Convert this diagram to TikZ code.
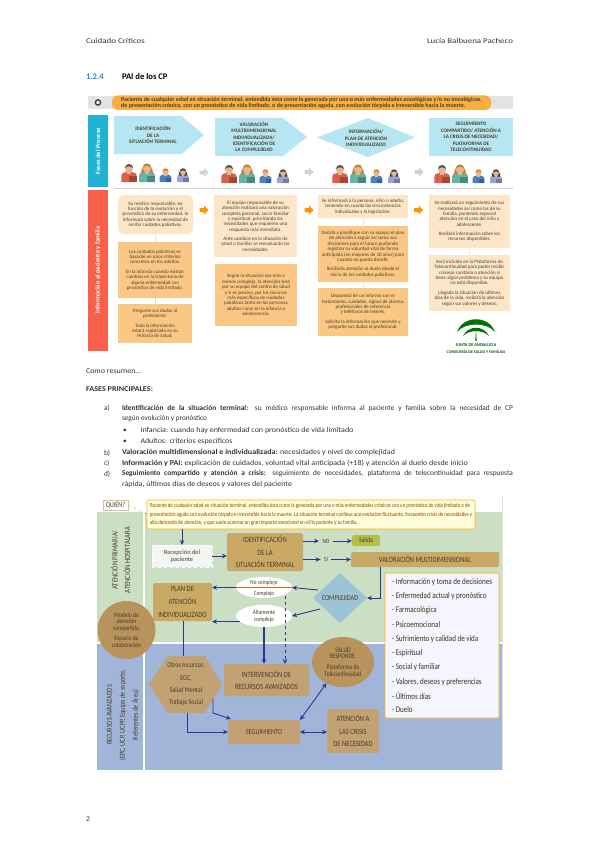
\documentclass[tikz,border=0pt]{standalone}
\usepackage{fontspec}
\setmainfont{Carlito}
\newfontfamily\cond[FakeStretch=0.82]{Carlito}
\usetikzlibrary{arrows.meta,shapes.geometric}
\definecolor{navy}{HTML}{33338F}
\definecolor{tan}{HTML}{C9A963}
\definecolor{tanb}{HTML}{C2A173}
\definecolor{brownc}{HTML}{B8935C}
\definecolor{greenbg}{HTML}{CBDFC4}
\definecolor{bluebg}{HTML}{A0B5D8}
\definecolor{cya}{HTML}{B5E6F1}
\definecolor{barcy}{HTML}{1FB3D1}
\definecolor{barred}{HTML}{F9604A}
\definecolor{orbar}{HTML}{F8AE42}
\definecolor{pl}{HTML}{FDE5C8}
\definecolor{pd}{HTML}{FBC784}
\definecolor{dk}{HTML}{4A3E2A}
\definecolor{body}{HTML}{333333}
\definecolor{dia}{HTML}{9DC4D6}
\definecolor{shA}{HTML}{D9604C}
\definecolor{shB}{HTML}{62B5A8}
\definecolor{shC}{HTML}{4A80C4}
\definecolor{shD}{HTML}{9AA3D2}
\definecolor{skin}{HTML}{E3B78F}
\tikzset{
 x=1pt,y=-1pt,
 tx/.style={inner sep=0,outer sep=0,text=body,font=\fontsize{7.4}{9}\selectfont,anchor=west},
 bxs/.style={inner sep=0,outer sep=0,align=center},
 flat/.style={bxs,text=dk,font=\fontsize{5}{5.35}\selectfont},
 lt/.style={flat,fill=pl},
 dkb/.style={flat,fill=pd},
 head/.style={bxs,text=dk,font=\bfseries\fontsize{5.2}{6.4}\selectfont},
 tanbox/.style={bxs,fill=tan,rounded corners=1.5pt,text=dk,font=\cond\fontsize{8}{12.6}\selectfont},
 tbb/.style={bxs,fill=tanb,rounded corners=1.5pt,text=dk,font=\cond\fontsize{8}{12.6}\selectfont},
 arr/.style={draw=navy,line width=0.9pt,-{Stealth[length=5pt,width=4.5pt]}},
 lbl/.style={inner sep=3.5pt,outer sep=0,text=dk,font=\cond\fontsize{6.5}{7}\selectfont},
 lst/.style={inner sep=0,outer sep=0,anchor=west,text=dk!80!black,font=\cond\fontsize{8.6}{10}\selectfont},
 vt/.style={inner sep=0,outer sep=0,rotate=90,align=center,text=dk,font=\cond\fontsize{8}{12.6}\selectfont}
}
\newcommand\fitw[2]{\resizebox{#1pt}{\height}{#2}}
\newcommand\bx[7]{\node[#6,minimum width={(#4-#2)*1pt},minimum height={(#5-#3)*1pt}] (#1) at ({(#2+#4)/2},{(#3+#5)/2}) {#7};}
\newcommand\person[7]{% x, bottom y, scale, shirt, hair, skin, long hair?
 \begin{scope}[shift={(#1,#2)},scale=#3]
  \fill[#4] (-8,0) -- (-8,-7) .. controls (-8,-10) and (-4,-10.5) .. (0,-10.5) .. controls (4,-10.5) and (8,-10) .. (8,-7) -- (8,0) -- cycle;
  \fill[#4!75!black] (0,0) rectangle (8,-6);
  \ifnum#7=1 \fill[#5] (-6,-9) .. controls (-7,-19) and (7,-19) .. (6,-9) -- cycle;\fi
  \fill[#6] (0,-14) ellipse (4.1 and 4.6);
  \fill[#6] (-1.6,-11) rectangle (1.6,-8.5);
  \fill[#5] (-4.4,-14.5) .. controls (-4.4,-20.5) and (4.4,-20.5) .. (4.4,-14.5) .. controls (2,-17) and (-2,-17) .. (-4.4,-14.5) -- cycle;
 \end{scope}}
\newcommand\family[2]{%
 \person{#1}{#2}{0.95}{shA}{gray!70!black}{skin}{0}
 \person{#1+18}{#2}{0.98}{shB}{brown!85!orange}{skin}{1}
 \person{#1+36.5}{#2}{0.72}{shC}{orange!60!brown}{skin}{0}
 \person{#1+54}{#2}{0.72}{shD}{black!75}{skin}{1}}
\newcommand\blk[3]{\fill[#3] (#1-4.5,#2-2) -- (#1,#2-2) -- (#1,#2-4.5) -- (#1+4.5,#2) -- (#1,#2+4.5) -- (#1,#2+2) -- (#1-4.5,#2+2) -- cycle;}
\begin{document}
\begin{tikzpicture}
\useasboundingbox (0,0) rectangle (599,848);
\fill[white] (0,0) rectangle (599,848);
% page header
\node[tx] (hl) at (86,41) {\fitw{59}{Cuidado Críticos}};
\node[tx,anchor=east] (hr) at (513,41) {\fitw{86}{Lucía Balbuena Pacheco}};
\node[tx,text=blue!45!cyan!70!gray,font=\bfseries\fontsize{8.6}{10}\selectfont] (num) at (86,77) {1.2.4};
\node[tx,text=black,font=\bfseries\fontsize{8.6}{10}\selectfont] (tit) at (122,77) {PAI de los CP};
% top infographic
\fill[gray!22] (88,96) rectangle (513,109);
\draw[black!75,line width=1.4pt,fill=white] (98,102.5) circle (2.6);
\bx{obar}{112}{95.5}{491}{110}{bxs,align=left,fill=orbar,rounded corners=6pt,text=dk,font=\bfseries\fontsize{6}{6.5}\selectfont}{Paciente de cualquier edad en situación terminal, entendida ésta como la generada por una o más enfermedades oncológicas y/o no oncológicas,\\de presentación crónica, con un pronóstico de vida limitado, o de presentación aguda, con evolución tórpida e irreversible hacia la muerte.}
\bx{fases}{88}{115}{108}{187}{fill=barcy,inner sep=0}{}
\node[rotate=90,inner sep=0,text=white,font=\bfseries\fontsize{6.4}{7}\selectfont] (fast) at (fases) {Fases del Proceso};
\fill[cya] (114,116) -- (181.5,116) -- (204,135) -- (181.5,154) -- (114,154) -- cycle;
\fill[cya] (215,118) -- (283,118) -- (307,137) -- (283,156) -- (215,156) -- cycle;
\fill[cya] (317,137.5) -- (368,118) -- (415,137.5) -- (368,157) -- cycle;
\fill[cya] (429,118) rectangle (513,156);
\node[head] (f1) at (153,135) {IDENTIFICACIÓN\\DE LA\\SITUACIÓN TERMINAL};
\node[head] (f2) at (254,137) {VALORACIÓN\\MULTIDIMENSIONAL\\INDIVIDUALIZADA/\\IDENTIFICACIÓN DE\\LA COMPLEJIDAD};
\node[head] (f3) at (366,138) {INFORMACIÓN/\\PLAN DE ATENCIÓN\\INDIVIDUALIZADO};
\node[head] (f4) at (471,137) {SEGUIMIENTO\\COMPARTIDO/ ATENCIÓN A\\LA CRISIS DE NECESIDAD/\\PLATAFORMA DE\\TELECONTINUIDAD};
\family{129}{182}
\family{229}{183}
\family{340}{183}
\family{442}{183}
\blk{204}{172.5}{gray!35}
\blk{309}{172}{gray!35}
\blk{419}{172}{gray!35}
\draw[gray!35,line width=0.8pt] (114,188.5) -- (513,188.5);
\bx{rbar}{88}{190}{108}{351}{fill=barred,inner sep=0}{}
\node[rotate=90,inner sep=0,text=white,font=\bfseries\fontsize{6.4}{7}\selectfont] (rbt) at (98,270) {Información al paciente y familia};
% column boxes
\bx{a1}{118}{195}{193}{234}{lt,rounded corners=6pt}{Su médico responsable, en\\función de la evolución y el\\pronóstico de su enfermedad, le\\informará sobre la necesidad de\\recibir cuidados paliativos.}
\bx{a2}{118}{242}{192}{298}{dkb}{Los cuidados paliativos se\\basarán en unos criterios\\concretos en los adultos.\\[4pt]En la infancia cuando existan\\cambios en la trayectoria de\\alguna enfermedad con\\pronóstico de vida limitado.}
\bx{a3}{118}{304}{192}{343}{dkb}{Pregunte sus dudas al\\profesional.\\[4pt]Toda la información\\estará registrada en su\\Historia de Salud.}
\bx{b1}{214}{195}{297}{257}{lt}{El equipo responsable de su\\atención realizará una valoración\\completa personal, socio-familiar\\y espiritual, priorizando las\\necesidades que requieren una\\respuesta más inmediata.\\[4pt]Ante cambios en la situación de\\salud o familiar se reevaluarán las\\necesidades.}
\bx{b2}{215}{264}{297}{326}{dkb}{Según la situación sea más o\\menos compleja, la atención será\\por su equipo del centro de salud\\y si es preciso, por los recursos\\más específicos de cuidados\\paliativos tanto en las personas\\adultas como en la infancia o\\adolescencia.}
\bx{c1}{318}{195}{408}{218}{lt}{Se informará a la persona, niño o adulto,\\teniendo en cuenta las circunstancias\\individuales y la legislación.}
\bx{c2}{318}{226}{408}{282}{dkb}{Decida y planifique con su equipo el plan\\de atención a seguir así como sus\\decisiones para el futuro pudiendo\\registrar su voluntad vital de forma\\anticipada (en mayores de 18 años) para\\cuando no pueda decidir.\\[4pt]Recibirás atención al duelo desde el\\inicio de los cuidados paliativos.}
\bx{c3}{318}{288}{408}{336}{dkb}{Dispondrá de un informe con el\\tratamiento, cuidados, signos de alarma,\\profesionales de referencia\\y teléfonos de interés.\\[4pt]Solicite la información que necesite y\\pregunte sus dudas al profesional.}
\bx{d1}{429}{195}{510}{248}{lt}{Se realizará un seguimiento de sus\\necesidades así como las de su\\familia, poniendo especial\\atención en el caso del niño y\\adolescente.\\[4pt]Recibirá información sobre los\\recursos disponibles.}
\bx{d2}{429}{255}{510}{311}{lt}{Será incluido en la Plataforma de\\Telecontinuidad para poder recibir\\consejo sanitario o atención si\\tiene algún problema y su equipo\\no está disponible.\\[4pt]Llegada la situación de últimos\\días de la vida, recibirá la atención\\según sus valores y deseos.}
\draw[gray!30,line width=0.7pt] (a1) -- (a2);
\draw[gray!30,line width=0.7pt] (a2) -- (a3);
\draw[pl,line width=0.7pt] (b1) -- (b2);
\draw[pl,line width=0.7pt] (c1) -- (c2);
\draw[pl,line width=0.7pt] (c2) -- (c3);
\draw[pl,line width=0.7pt] (d1) -- (d2);
\blk{204}{210}{orange!85!yellow}
\blk{309}{210}{orange!85!yellow}
\blk{418.5}{210}{orange!85!yellow}
% logo
\fill[green!45!black] (457,332) .. controls (463,315) and (489,315) .. (495,332) .. controls (487,322) and (465,322) .. (457,332) -- cycle;
\fill[green!45!black] (463,336) .. controls (468,325) and (484,325) .. (489,336) .. controls (483,329.5) and (469,329.5) .. (463,336) -- cycle;
\fill[green!45!black] (475.3,341) -- (476,330) -- (476.7,341) -- cycle;
\node[inner sep=0,text=green!35!black,font=\bfseries\fontsize{4.4}{5}\selectfont] (lg1) at (476,345.5) {JUNTA DE ANDALUCIA};
\node[inner sep=0,text=green!35!black,font=\bfseries\fontsize{4.1}{5}\selectfont] (lg2) at (476,352) {CONSEJERÍA DE SALUD Y FAMILIAS};
% body text
\node[tx] (t0) at (86,371) {\fitw{55}{Como resumen…}};
\node[tx,font=\bfseries\fontsize{7.4}{9}\selectfont] (t1) at (86,389) {\fitw{67}{FASES PRINCIPALES:}};
\node[tx] (ta) at (104,408) {a)};
\node[tx] (tal) at (122,408) {\makebox[391pt][s]{\textbf{Identificación de la situación terminal:} su médico responsable informa al paciente y familia sobre la necesidad de CP}};
\node[tx] (tb2) at (122,419) {\fitw{85}{según evolución y pronóstico}};
\node[tx] (bu1) at (123,431) {•};
\node[tx] (bt1) at (140.5,431) {\fitw{213}{Infancia: cuando hay enfermedad con pronóstico de vida limitado}};
\node[tx] (bu2) at (123,441.5) {•};
\node[tx] (bt2) at (140.5,441.5) {\fitw{92}{Adultos: criterios específicos}};
\node[tx] (tb) at (104,453) {b)};
\node[tx] (tbl) at (122,453) {\fitw{273}{\textbf{Valoración multidimensional e individualizada:} necesidades y nivel de complejidad}};
\node[tx] (tc) at (104,463.5) {c)};
\node[tx] (tcl) at (122,463.5) {\fitw{346}{\textbf{Información y PAI:} explicación de cuidados, voluntad vital anticipada (+18) y atención al duelo desde inicio}};
\node[tx] (td) at (104,474) {d)};
\node[tx] (tdl) at (122,474) {\makebox[391pt][s]{\textbf{Seguimiento compartido y atención a crisis:} seguimiento de necesidades, plataforma de telecontinuidad para respuesta}};
\node[tx] (td2) at (122,484.5) {\fitw{170}{rápida, últimos días de deseos y valores del paciente}};
% lower diagram backgrounds
\fill[greenbg] (97,512) rectangle (502,642);
\fill[bluebg] (97,644) rectangle (502,770);
\draw[white,line width=1.2pt] (144,512) -- (144,642) (144,644) -- (144,770);
\fill[white] (97,498) rectangle (145,511);
\draw[gray!25] (502,497) -- (502,770);
\bx{quien}{103}{500}{128}{510}{bxs,fill=white,draw=tan!70,line width=0.4pt,text=dk,font=\cond\fontsize{7.5}{8}\selectfont}{QUIÉN?}
\bx{yel}{147}{500}{475}{529}{bxs,align=left,fill=yellow!14,draw=orange!60!yellow,line width=0.6pt,rounded corners=1.5pt,text=orange!55!black,font=\cond\fontsize{5.95}{8.4}\selectfont}{Paciente de cualquier edad en situación terminal, entendida ésta como la generada por una o más enfermedades crónicas con un pronóstico de vida limitado o de\\presentación aguda con evolución tórpida e irreversible hacia la muerte. La situación terminal conlleva una evolución fluctuante, frecuentes crisis de necesidades y\\alta demanda de atención, y que suele acarrear un gran impacto emocional en el/la paciente y su familia.}
\draw[tan,line width=0.4pt,dashed] (quien.east) -- (yel.west);
\node[vt] (vt1) at (120.5,560) {ATENCIÓN PRIMARIA/\\ATENCIÓN HOSPITALARA};
\node[vt,font=\cond\fontsize{7.6}{13}\selectfont] (vt2) at (123,715) {RECURSOS AVANZADOS\\(EPC, UCP, UCPP, Equipo de soporte,\\Referentes de Área)};
\bx{recep}{152}{545}{212}{567}{bxs,fill=green!6!gray!8,draw=white,dashed,line width=0.4pt,text=dk,font=\fontsize{6.4}{7}\selectfont}{Recepción del\\paciente}
\bx{ident}{227}{533}{303}{571}{tanbox}{IDENTIFICACIÓN\\DE LA\\SITUACIÓN TERMINAL}
\node[lbl] (no) at (326,541) {NO};
\node[lbl] (si) at (326,559.5) {SI};
\bx{sal}{352}{535}{380}{546}{bxs,fill=olive!35!green!35!yellow!70!gray,rounded corners=1.5pt,text=dk,font=\cond\fontsize{7}{8}\selectfont}{Salida}
\bx{val}{351}{552}{499}{567}{bxs,fill=tan,rounded corners=1.5pt,text=dk,font=\cond\fontsize{8}{9}\selectfont}{VALORACIÓN MULTIDIMENSIONAL}
\node[ellipse,fill=white,inner sep=0,outer sep=0,minimum width=56pt,minimum height=21pt] (e1) at (264,587.5) {};
\node[inner sep=0,text=dk,font=\cond\fontsize{6.4}{7}\selectfont] (e1a) at (264,582.5) {No complejo};
\node[inner sep=0,text=dk,font=\cond\fontsize{6.4}{7}\selectfont] (e1b) at (264,593.5) {Complejo};
\draw[orange!85!black,line width=0.9pt] (e1.west) -- (e1.east);
\node[ellipse,fill=white,inner sep=0,outer sep=0,minimum width=56pt,minimum height=22pt,align=center,text=dk,font=\cond\fontsize{6.4}{7.2}\selectfont] (e2) at (264,616) {Altamente\\complejo};
\bx{plan}{153}{583}{212}{621}{tanbox}{PLAN DE\\ATENCIÓN\\INDIVIDUALIZADO}
\node[diamond,fill=dia,inner sep=0,outer sep=0,minimum width=54pt,minimum height=50pt,text=dk,font=\cond\fontsize{7.6}{8}\selectfont] (cx) at (340,598) {COMPLEJIDAD};
\bx{list}{385}{573}{499}{718}{inner sep=0,fill=blue!4!white,draw=orange!60!yellow,line width=0.7pt,rounded corners=1pt}{}
\foreach \tt/\yy/\nn in {Información y toma de decisiones/582.5/a,Enfermedad actual y pronóstico/596.5/b,Farmacológica/610.5/c,Psicoemocional/625/d,Sufrimiento y calidad de vida/639/e,Espiritual/653/f,Social y familiar/667.5/g,{Valores, deseos y preferencias}/682/h,Últimos días/696/i,Duelo/710/j}{
 \node[lst] (li\nn) at (392,\yy) {- \tt};
}
\node[circle,fill=brownc,inner sep=0,outer sep=0,minimum size=58pt,align=center,text=dk,font=\cond\fontsize{6.8}{6.4}\selectfont] (mod) at (126.5,630) {Modelo de\\atención\\compartida.\\[4pt]Espacio de\\colaboración};
% hexagon
\fill[tanb] (149,684.5) -- (168,656) -- (205,656) -- (222,684.5) -- (205,713) -- (168,713) -- cycle;
\node[inner sep=0,align=center,text=dk,font=\cond\fontsize{7.4}{12.4}\selectfont] (hx) at (186,684.5) {Otros recursos:\\EGC,\\Salud Mental\\Trabajo Social};
\coordinate (hxt) at (183,656);
\coordinate (hxb) at (187,713);
\coordinate (hxr) at (213,699);
\bx{int}{224}{664}{309}{696}{tbb}{INTERVENCIÓN DE\\RECURSOS AVANZADOS}
\bx{seg}{228}{720}{300}{744}{tbb,font=\cond\fontsize{7.6}{9}\selectfont}{SEGUIMIENTO}
\node[ellipse,fill=brownc,inner sep=0,outer sep=0,minimum width=62pt,minimum height=50pt,align=center,text=dk,font=\cond\fontsize{7}{6.6}\selectfont] (sr) at (343,662) {SALUD\\RESPONDE.\\[4pt]Plataforma de\\Telecontinuidad};
\bx{ate}{327}{709}{379}{753}{tbb}{ATENCIÓN A\\LAS CRISIS\\DE NECESIDAD}
% connectors
\draw[arr] (yel.south -| recep) -- (recep.north);
\draw[arr] (recep.east) -- (recep.east -| ident.west);
\draw[arr] (no -| ident.east) -- (no.west);
\draw[arr] (no.east) -- (no -| sal.west);
\draw[arr] (si -| ident.east) -- (si.west);
\draw[arr] (si.east) -- (si -| val.west);
\coordinate (vd) at (380,567);
\draw[arr] (vd) |- (cx.east);
\coordinate (c1s) at (318,590);
\coordinate (c2s) at (320,609);
\draw[arr] (c1s) -- (e1.east);
\draw[arr] (c2s) -- (e2.east);
\draw[arr] (e1.west) -- (e1.west -| plan.east);
\draw[arr] (e2.193) -- (e2.193 -| plan.east);
\draw[navy,line width=0.9pt] (plan.south -| hxt) -- (hxt);
\draw[arr,line width=1.2pt] (e2.south) -- (e2.south |- int.north);
\coordinate (dsh) at (285,596);
\draw[arr,dashed] (dsh) -- (dsh |- int.north);
\draw[arr] (hxb) |- (seg.west);
\coordinate (segt) at (231,719);
\draw[arr] (hxr) -- (213,713) -- (segt);
\draw[arr,{Stealth[length=5pt,width=4.5pt]}-{Stealth[length=5pt,width=4.5pt]}] (seg.north east) -- (sr.232);
\draw[arr,{Stealth[length=5pt,width=4.5pt]}-{Stealth[length=5pt,width=4.5pt]}] (seg.east) -- (seg.east -| ate.west);
\node[tx] (pg) at (86,819) {2};
\end{tikzpicture}
\end{document}
